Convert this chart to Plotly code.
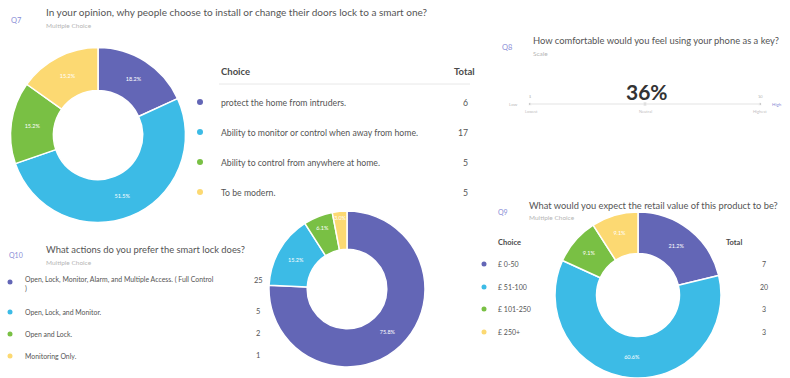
import plotly.graph_objects as go

# ---------------- data ----------------
colors = ["#6366b6", "#3cbbe6", "#79c044", "#fcd972"]

q7_title = "In your opinion, why people choose to install or change their doors lock to a smart one?"
q7_choices = ["protect the home from intruders.",
              "Ability to monitor or control when away from home.",
              "Ability to control from anywhere at home.",
              "To be modern."]
q7_totals = [6, 17, 5, 5]

q8_title = "How comfortable would you feel using your phone as a key?"
q8_value = "36%"

q10_title = "What actions do you prefer the smart lock does?"
q10_choices = ["Open, Lock, Monitor, Alarm, and Multiple Access. ( Full Control<br>)",
               "Open, Lock, and Monitor.",
               "Open and Lock.",
               "Monitoring Only."]
q10_totals = [25, 5, 2, 1]

q9_title = "What would you expect the retail value of this product to be?"
q9_choices = ["£ 0-50", "£ 51-100", "£ 101-250", "£ 250+"]
q9_totals = [7, 20, 3, 3]

W, H = 790, 378
FONT = "Lato"


def dom(cx, cy, r):
    return dict(x=[(cx - r) / W, (cx + r) / W],
                y=[max(0, (H - cy - r) / H), min(1, (H - cy + r) / H)])


fig = go.Figure()


def add_pie(values, labels, cx, cy, r, hole):
    fig.add_trace(go.Pie(
        values=values, labels=labels, domain=dom(cx, cy, r), hole=hole,
        sort=False, direction="clockwise", rotation=0,
        marker=dict(colors=colors, line=dict(color="white", width=1.5)),
        texttemplate="%{percent:.1%}", textposition="inside",
        insidetextorientation="horizontal",
        textfont=dict(color="white", size=5.5, family=FONT),
        showlegend=False, hoverinfo="label+value+percent"))


add_pie(q7_totals, q7_choices, 98, 135, 87.5, 0.51)
add_pie(q10_totals, q10_choices, 347, 289, 78, 0.51)
add_pie(q9_totals, q9_choices, 638, 295, 83, 0.5)

ann = []


def text(x, y, s, size=9, color="#4a4a4a", anchor="left", bold=False):
    ann.append(dict(x=x, y=y, xref="x", yref="y", text=("<b>%s</b>" % s) if bold else s,
                    showarrow=False, xanchor=anchor, yanchor="middle", align=anchor,
                    font=dict(family=FONT, size=size, color=color)))


QCOL = "#8a8dd6"
SUB = "#b5b5b5"
TXT = "#555555"

# Q7
text(9, 20, "Q7", 7.5, QCOL)
text(44, 12, q7_title, 10, "#555555")
text(44, 25, "Multiple Choice", 6.5, SUB)
text(219, 71, "Choice", 9.5, "#4a4a4a", bold=True)
text(477, 71, "Total", 9.5, "#4a4a4a", anchor="right", bold=True)
q7_y = [102, 132, 162, 192]
for i, (c, t) in enumerate(zip(q7_choices, q7_totals)):
    text(219, q7_y[i], c, 8.7, TXT)
    text(470, q7_y[i], str(t), 8.7, TXT, anchor="right")
fig.add_trace(go.Scatter(x=[200] * 4, y=q7_y, mode="markers",
                         marker=dict(color=colors, size=6), showlegend=False, hoverinfo="skip"))

# Q8
text(500, 47, "Q8", 7.5, QCOL)
text(531, 40, q8_title, 9.4, "#555555")
text(531, 53, "Scale", 6.5, SUB)
text(647, 91, q8_value, 21, "#333333", anchor="center", bold=True)
text(513, 104, "Low", 4.5, "#bbbbbb", anchor="center")
text(777, 104, "High", 4.5, QCOL, anchor="center")
text(531, 111, "Lowest", 4, "#c0c0c0", anchor="center")
text(645, 111, "Neutral", 4, "#c0c0c0", anchor="center")
text(760, 111, "Highest", 4, "#c0c0c0", anchor="center")
text(530, 96, "1", 4, "#bbbbbb", anchor="center")
text(760, 96, "10", 4, "#bbbbbb", anchor="center")

# Q10
text(7, 255, "Q10", 7, QCOL)
text(44, 249, q10_title, 9.4, "#555555")
text(44, 262, "Multiple Choice", 6.5, SUB)
q10_y = [284, 312, 334, 356]
for i, (c, t) in enumerate(zip(q10_choices, q10_totals)):
    text(23, q10_y[i], c, 6.9, TXT)
    text(258, [280, 311, 333, 355][i], str(t), 7.5, TXT, anchor="center")
fig.add_trace(go.Scatter(x=[10] * 4, y=[282, 312, 334, 356], mode="markers",
                         marker=dict(color=colors, size=5), showlegend=False, hoverinfo="skip"))

# Q9
text(496, 212, "Q9", 7, QCOL)
text(527, 205, q9_title, 9.3, "#555555")
text(527, 217, "Multiple Choice", 6.5, SUB)
text(496, 242, "Choice", 7.5, "#4a4a4a", bold=True)
text(724, 242, "Total", 7.5, "#4a4a4a", bold=True)
q9_y = [264, 287, 309, 332]
for i, (c, t) in enumerate(zip(q9_choices, q9_totals)):
    text(496, q9_y[i], c, 7, TXT)
    text(764, q9_y[i], str(t), 7, TXT, anchor="center")
fig.add_trace(go.Scatter(x=[484] * 4, y=q9_y, mode="markers",
                         marker=dict(color=colors, size=5), showlegend=False, hoverinfo="skip"))

# Q8 slider dots
fig.add_trace(go.Scatter(x=[530, 645, 760, 530, 760], y=[104, 104, 104, 97, 97], mode="markers",
                         marker=dict(color="#9a9a9a", size=[3, 4, 3, 2, 2]),
                         showlegend=False, hoverinfo="skip"))

shapes = [
    dict(type="line", x0=219, x1=470, y0=84, y1=84, xref="x", yref="y",
         line=dict(color="#e8e8e8", width=1)),
    dict(type="line", x0=530, x1=760, y0=104, y1=104, xref="x", yref="y",
         line=dict(color="#ececec", width=1.5)),
]

fig.update_layout(
    width=W, height=H, margin=dict(l=0, r=0, t=0, b=0),
    paper_bgcolor="white", plot_bgcolor="rgba(0,0,0,0)",
    xaxis=dict(range=[0, W], visible=False, fixedrange=True),
    yaxis=dict(range=[H, 0], visible=False, fixedrange=True),
    annotations=ann, shapes=shapes,
    font=dict(family=FONT),
)

fig.write_html("out.html")
